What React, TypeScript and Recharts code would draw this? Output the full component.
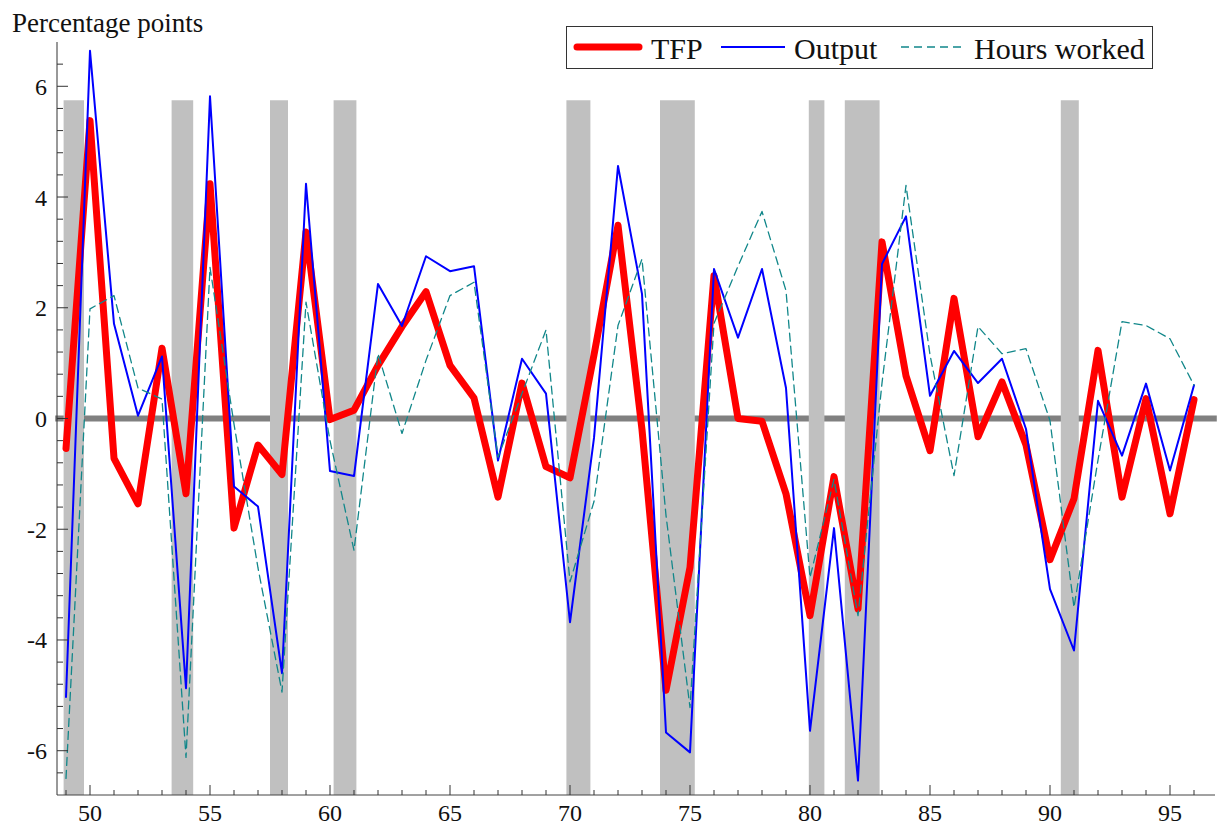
import { Legend, Line, LineChart, ReferenceArea, XAxis, YAxis } from 'recharts'

const FONT = '"Liberation Serif", "Times New Roman", serif'

const years = [
  49, 50, 51, 52, 53, 54, 55, 56, 57, 58, 59, 60, 61, 62, 63, 64, 65, 66, 67, 68, 69, 70, 71, 72,
  73, 74, 75, 76, 77, 78, 79, 80, 81, 82, 83, 84, 85, 86, 87, 88, 89, 90, 91, 92, 93, 94, 95, 96,
]

const tfp = [
  -0.54, 5.38, -0.72, -1.54, 1.27, -1.36, 4.24, -1.98, -0.48, -1.01, 3.37, -0.02, 0.15, 0.96, 1.66,
  2.29, 0.96, 0.37, -1.42, 0.64, -0.87, -1.07, 1.15, 3.49, -0.2, -4.91, -2.69, 2.58, 0.0, -0.05,
  -1.36, -3.56, -1.05, -3.44, 3.19, 0.77, -0.58, 2.17, -0.33, 0.66, -0.48, -2.55, -1.45, 1.23,
  -1.42, 0.36, -1.72, 0.34,
]

const output = [
  -5.03, 6.64, 1.71, 0.05, 1.12, -4.87, 5.82, -1.23, -1.59, -4.6, 4.24, -0.95, -1.04, 2.43, 1.67,
  2.93, 2.66, 2.75, -0.76, 1.08, 0.45, -3.68, -0.35, 4.56, 2.25, -5.67, -6.03, 2.7, 1.46, 2.7, 0.55,
  -5.64, -1.98, -6.54, 2.79, 3.65, 0.41, 1.22, 0.64, 1.08, -0.19, -3.08, -4.19, 0.32, -0.67, 0.63,
  -0.94, 0.6,
]

const hours = [
  -6.5, 1.98, 2.22, 0.55, 0.35, -6.12, 2.73, -0.1, -2.7, -4.94, 2.1, -0.4, -2.38, 1.17, -0.27, 1.05,
  2.22, 2.46, -0.7, 0.45, 1.6, -2.95, -1.5, 1.68, 2.88, -1.75, -5.22, 1.72, 2.75, 3.74, 2.31, -2.87,
  -1.1, -3.56, 0.64, 4.21, 1.15, -1.03, 1.66, 1.17, 1.26, -0.04, -3.41, -0.75, 1.75, 1.68, 1.44, 0.6,
]

// recession periods (start, end) in fractional years
const recessions: [number, number][] = [
  [48.9, 49.75],
  [53.4, 54.3],
  [57.5, 58.25],
  [60.15, 61.1],
  [69.85, 70.85],
  [73.75, 75.2],
  [79.95, 80.6],
  [81.45, 82.9],
  [90.45, 91.2],
]

const xLabelTicks = [50, 55, 60, 65, 70, 75, 80, 85, 90, 95]
const yLabelTicks = [-6, -4, -2, 0, 2, 4, 6]
const yTicks = [
  -6.4, -6, -5.6, -5.2, -4.8, -4.4, -4, -3.6, -3.2, -2.8, -2.4, -2, -1.6, -1.2, -0.8, -0.4, 0, 0.4,
  0.8, 1.2, 1.6, 2, 2.4, 2.8, 3.2, 3.6, 4, 4.4, 4.8, 5.2, 5.6, 6, 6.4,
]

const series = [
  { key: 'tfp', name: 'TFP', color: '#ff0000', width: 7, dash: undefined },
  { key: 'output', name: 'Output', color: '#0000ff', width: 2, dash: undefined },
  { key: 'hours', name: 'Hours worked', color: '#11878a', width: 1.3, dash: '8 5' },
]

const chartData = years.map((year, i) => ({
  year,
  tfp: tfp[i],
  output: output[i],
  hours: hours[i],
}))

const AXIS_X = 57
const AXIS_Y = 795

function YTick({ y, payload }: any) {
  const v = Number(payload.value)
  const major = yLabelTicks.some((t) => Math.abs(t - v) < 1e-6)
  return (
    <g>
      <line x1={AXIS_X} x2={AXIS_X + (major ? 11 : 6)} y1={y} y2={y} stroke="#333" />
      {major && (
        <text x={47} y={y + 8.5} textAnchor="end" fontSize={24} fontFamily={FONT} fill="#111">
          {v}
        </text>
      )}
    </g>
  )
}

function XTick({ x, payload }: any) {
  const v = Number(payload.value)
  const major = xLabelTicks.includes(v)
  return (
    <g>
      <line x1={x} x2={x} y1={AXIS_Y} y2={AXIS_Y - (major ? 10 : 5)} stroke="#333" />
      {major && (
        <text x={x} y={821} textAnchor="middle" fontSize={24} fontFamily={FONT} fill="#111">
          {v}
        </text>
      )}
    </g>
  )
}

function LegendBox() {
  const items = [
    { s: series[0], x1: 7, x2: 75, tx: 84 },
    { s: series[1], x1: 154, x2: 218, tx: 227 },
    { s: series[2], x1: 334, x2: 397, tx: 407 },
  ]
  return (
    <div
      style={{
        width: 587,
        height: 43,
        boxSizing: 'border-box',
        border: '1px solid #333',
        background: '#fff',
      }}
    >
      <svg width={585} height={41} style={{ display: 'block' }}>
        {items.map(({ s, x1, x2, tx }) => (
          <g key={s.key}>
            <line
              x1={x1 + (s.width > 3 ? 3 : 0)}
              x2={x2 - (s.width > 3 ? 3 : 0)}
              y1={20}
              y2={20}
              stroke={s.color}
              strokeWidth={s.width}
              strokeDasharray={s.dash}
              strokeLinecap={s.width > 3 ? 'round' : 'butt'}
            />
            <text x={tx} y={32} fontSize={30} fontFamily={FONT} fill="#111">
              {s.name}
            </text>
          </g>
        ))}
      </svg>
    </div>
  )
}

export default function App() {
  return (
    <div style={{ position: 'absolute', left: 0, top: 0, width: 1217, height: 827, background: '#fff' }}>
      <LineChart
        width={1217}
        height={827}
        data={chartData}
        margin={{ top: 42, right: 2, bottom: 0, left: 0 }}
      >
        <XAxis
          dataKey="year"
          type="number"
          domain={[48.625, 96.875]}
          allowDataOverflow
          ticks={years}
          interval={0}
          tick={<XTick />}
          tickLine={false}
          axisLine={{ stroke: '#444' }}
          height={32}
        />
        <YAxis
          type="number"
          domain={[-6.8, 6.8]}
          allowDataOverflow
          ticks={yTicks}
          interval={0}
          tick={<YTick />}
          tickLine={false}
          axisLine={{ stroke: '#333' }}
          width={57}
        />
        {/* zero line, drawn before the recession bars so they cover it */}
        <ReferenceArea
          x1={48.55}
          x2={96.95}
          y1={-0.055}
          y2={0.055}
          fill="#808080"
          fillOpacity={1}
          stroke="none"
          ifOverflow="visible"
        />
        {recessions.map(([a, b], i) => (
          <ReferenceArea
            key={i}
            x1={a}
            x2={b}
            y1={-6.8}
            y2={5.75}
            fill="#c0c0c0"
            fillOpacity={1}
            stroke="none"
          />
        ))}
        {series.map((s) => (
          <Line
            key={s.key}
            type="linear"
            dataKey={s.key}
            name={s.name}
            stroke={s.color}
            strokeWidth={s.width}
            strokeDasharray={s.dash}
            strokeLinejoin="round"
            strokeLinecap="round"
            dot={false}
            activeDot={false}
            isAnimationActive={false}
          />
        ))}
        <Legend
          layout="horizontal"
          verticalAlign="middle"
          align="center"
          content={() => <LegendBox />}
          wrapperStyle={{ position: 'absolute', top: 26, left: 566, width: 587, height: 43 }}
        />
      </LineChart>
      <svg
        width={300}
        height={40}
        style={{ position: 'absolute', left: 0, top: 0, pointerEvents: 'none' }}
      >
        <text x={12} y={32} fontSize={27} fontFamily={FONT} fill="#111">
          Percentage points
        </text>
      </svg>
    </div>
  )
}
